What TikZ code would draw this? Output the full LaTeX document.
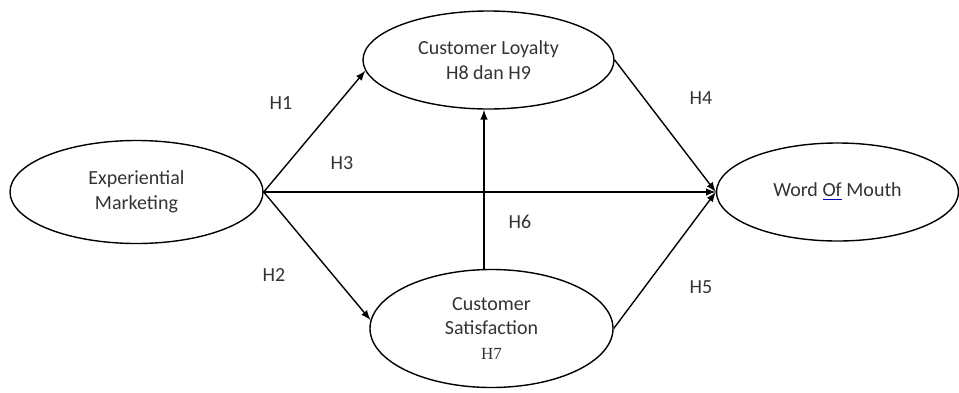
\documentclass[tikz,border=0pt]{standalone}
\usepackage{fontspec}
\setmainfont{Carlito}
\newfontfamily\hsevenfont{Liberation Serif}
\usepackage{tikz}
\usetikzlibrary{shapes.geometric}
\newcommand{\spellmark}[1]{{\color{blue!70!black}\underline{\color{black!80}#1}}}

\begin{document}
\begin{tikzpicture}[x=0.5pt, y=-0.5pt, >=latex, line width=0.7pt,
    construct/.style={ellipse, draw, inner sep=0pt, align=center, text=black!80, font=\fontsize{10}{12.3}\selectfont},
    hyp/.style={text=black!80, font=\fontsize{10}{12}\selectfont}]
    \useasboundingbox (0, 0) rectangle (959, 392);
    \path (136.5, 192) node[construct, minimum width=126.5pt, minimum height=51.5pt](em) {Experiential\\Marketing}
          (488.5, 60) node[construct, minimum width=125.5pt, minimum height=49pt](cl) {Customer Loyalty\\H8 dan H9}
          (491.5, 328.5) node[construct, minimum width=121.5pt, minimum height=59pt](cs) {Customer\\Satisfaction\\{\hsevenfont\fontsize{8.5}{10}\selectfont H7}}
          (837.5, 192) node[construct, minimum width=121pt, minimum height=49pt](wom) {Word \spellmark{Of} Mouth};
    \draw[->] (em.east) -- (cl.185);
    \draw[->] (em.east) -- (cs.176);
    \draw[->] (em.east) -- (wom.west);
    \draw[->] ([xshift=-3.75pt]cs.north) -- ([xshift=-3.75pt]cs.north |- cl.south);
    \draw[->] (cl.east) -- (wom.west);
    \draw[->] (cs.east) -- (wom.west);
    \path (281, 103) node[hyp](h1) {H1} (274, 275) node[hyp](h2) {H2} (342, 163) node[hyp](h3) {H3}
          (701, 98) node[hyp](h4) {H4} (701, 287) node[hyp](h5) {H5} (520, 222) node[hyp](h6) {H6};
\end{tikzpicture}
\end{document}
